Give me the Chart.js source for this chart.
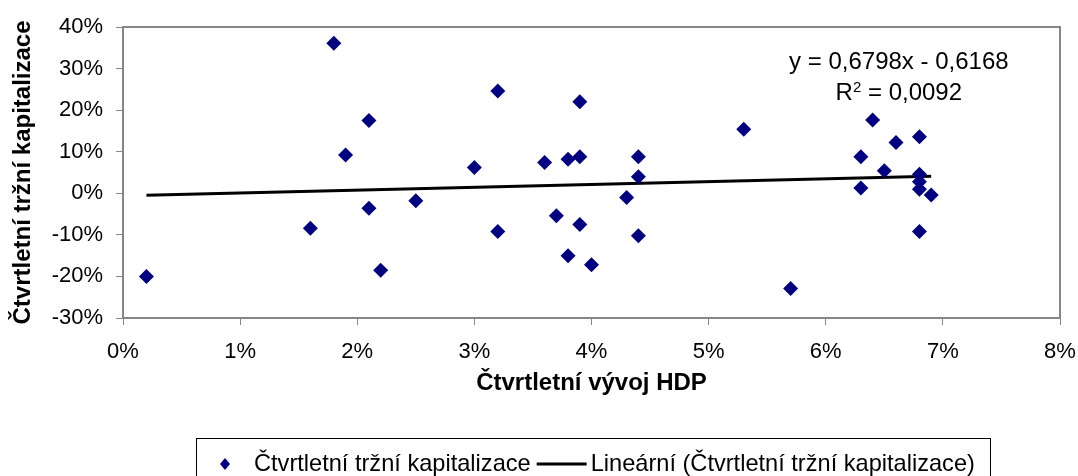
<!DOCTYPE html>
<html>
<head>
<meta charset="utf-8">
<script src="https://cdn.jsdelivr.net/npm/chart.js@4"></script>
<style>
  html, body { margin: 0; padding: 0; background: #fff; }
  #wrap { width: 1078px; height: 476px; }
</style>
</head>
<body>
<div id="wrap"><canvas id="myChart" width="1078" height="476"></canvas></div>
<script>
// quarterly GDP growth (%) vs quarterly market cap change (%)
const gdpGrowth = [0.2, 1.6, 1.8, 1.9, 2.1, 2.1, 2.2, 2.5, 3.0, 3.2, 3.2, 3.6, 3.7, 3.8, 3.8, 3.9, 3.9, 3.9, 4.0, 4.3, 4.4, 4.4, 4.4, 5.3, 5.7, 6.3, 6.3, 6.4, 6.5, 6.6, 6.8, 6.8, 6.8, 6.8, 6.8, 6.9];
const marketCap = [-20.0, -8.4, 36.1, 9.2, 17.5, -3.6, -18.5, -1.8, 6.2, 24.6, -9.2, 7.4, -5.4, 8.2, -15.0, 8.8, 22.0, -7.5, -17.2, -1.0, 8.8, 4.0, -10.2, 15.4, -22.9, 8.8, 1.3, 17.6, 5.4, 12.2, 13.6, 4.6, 2.8, 1.0, -9.2, -0.4];
const trendSlope = 0.6798;
const trendIntercept = -0.6168;
const trendText = 'y = 0,6798x - 0,6168';
const rSquared = '0,0092';
const xTicks = [0, 1, 2, 3, 4, 5, 6, 7, 8];
const yTicks = [-30, -20, -10, 0, 10, 20, 30, 40];

const seriesName = 'Čtvrtletní tržní kapitalizace';
const trendName = 'Lineární (Čtvrtletní tržní kapitalizace)';
const xTitle = 'Čtvrtletní vývoj HDP';
const yTitle = 'Čtvrtletní tržní kapitalizace';

const points = gdpGrowth.map((x, i) => ({ x, y: marketCap[i] }));
const xMin = Math.min(...gdpGrowth), xMax = Math.max(...gdpGrowth);
const trend = [xMin, xMax].map(x => ({ x, y: trendSlope * x + trendIntercept }));

const FONT = "'Liberation Sans', Arial, sans-serif";
const axisGray = '#868686';

// legend font: narrow face if it is there
function legendFont(ctx) {
  ctx.save();
  ctx.font = "28px 'Liberation Sans Narrow'";
  const wn = ctx.measureText(seriesName).width;
  ctx.font = "28px 'Liberation Sans'";
  const wr = ctx.measureText(seriesName).width;
  ctx.restore();
  return wn < wr * 0.92 ? "28px 'Liberation Sans Narrow'" : '23.6px ' + FONT;
}

// plot frame, boxed legend, trendline equation
const extras = {
  id: 'extras',
  afterDraw(chart) {
    const ctx = chart.ctx;
    const a = chart.chartArea;
    const ds = chart.data.datasets;
    ctx.save();
    ctx.strokeStyle = axisGray;
    ctx.lineWidth = 2;
    ctx.strokeRect(a.left, a.top, a.right - a.left, a.bottom - a.top);

    // equation
    ctx.fillStyle = '#000';
    ctx.textBaseline = 'alphabetic';
    ctx.textAlign = 'center';
    ctx.font = '24px ' + FONT;
    const cx = a.left + (a.right - a.left) * 0.828;
    ctx.fillText(trendText, cx, a.top + 42);
    const y2 = a.top + 73;
    const wL = ctx.measureText('R').width;
    const wR = ctx.measureText(' = ' + rSquared).width;
    ctx.font = '15px ' + FONT;
    const wS = ctx.measureText('2').width;
    const start = cx - (wL + wS + wR) / 2;
    ctx.textAlign = 'left';
    ctx.fillText('2', start + wL, y2 - 8);
    ctx.font = '24px ' + FONT;
    ctx.fillText('R', start, y2);
    ctx.fillText(' = ' + rSquared, start + wL + wS, y2);

    // legend
    ctx.strokeStyle = '#000';
    ctx.lineWidth = 1;
    ctx.strokeRect(196.5, 438.5, 794, 50);
    const ly = 464;
    ctx.fillStyle = ds[0].backgroundColor;
    ctx.beginPath();
    ctx.moveTo(225, ly - 6);
    ctx.lineTo(230, ly);
    ctx.lineTo(225, ly + 6);
    ctx.lineTo(220, ly);
    ctx.closePath();
    ctx.fill();
    ctx.font = legendFont(ctx);
    ctx.fillStyle = '#000';
    ctx.textBaseline = 'middle';
    ctx.fillText(ds[0].label, 254, ly);
    const w1 = ctx.measureText(ds[0].label).width;
    const lx = 254 + w1 + 6;
    ctx.strokeStyle = ds[1].borderColor;
    ctx.lineWidth = 3;
    ctx.beginPath();
    ctx.moveTo(lx, ly);
    ctx.lineTo(lx + 50, ly);
    ctx.stroke();
    ctx.fillText(ds[1].label, lx + 54, ly);
    ctx.restore();
  }
};

new Chart(document.getElementById('myChart'), {
  type: 'scatter',
  data: {
    datasets: [
      {
        label: seriesName,
        data: points,
        pointStyle: 'rectRot',
        pointRadius: 7.5,
        pointHoverRadius: 7.5,
        backgroundColor: '#000080',
        borderColor: '#000080',
        borderWidth: 0
      },
      {
        label: trendName,
        type: 'line',
        data: trend,
        showLine: true,
        pointRadius: 0,
        borderColor: '#000',
        backgroundColor: '#000',
        borderWidth: 3,
        fill: false
      }
    ]
  },
  options: {
    responsive: false,
    animation: false,
    layout: { padding: { left: 0, right: 18, top: 27, bottom: 78 } },
    plugins: {
      tooltip: { enabled: false },
      legend: { display: false }
    },
    scales: {
      x: {
        type: 'linear',
        min: 0,
        max: 8,
        afterBuildTicks: s => { s.ticks = xTicks.map(v => ({ value: v })); },
        afterFit: s => { s.height = 80; s.paddingLeft = 0; s.paddingRight = 0; },
        ticks: {
          color: '#000',
          font: { family: FONT, size: 22 },
          padding: 14,
          maxRotation: 0,
          callback: v => v + '%'
        },
        grid: { drawOnChartArea: false, drawTicks: true, tickLength: 7, tickColor: axisGray },
        border: { color: axisGray, width: 2 },
        title: {
          display: true,
          text: xTitle,
          color: '#000',
          font: { family: FONT, size: 24, weight: 'bold' },
          padding: { top: 0, bottom: 0 }
        }
      },
      y: {
        type: 'linear',
        min: -30,
        max: 40,
        afterBuildTicks: s => { s.ticks = yTicks.map(v => ({ value: v })); },
        afterFit: s => { s.width = 123; s.paddingTop = 0; s.paddingBottom = 0; },
        ticks: {
          color: '#000',
          font: { family: FONT, size: 22 },
          padding: 13,
          callback: v => v + '%'
        },
        grid: { drawOnChartArea: false, drawTicks: true, tickLength: 7, tickColor: axisGray },
        border: { color: axisGray, width: 2 },
        title: {
          display: true,
          text: yTitle,
          color: '#000',
          font: { family: FONT, size: 24, weight: 'bold' },
          padding: { top: 9, bottom: 0 }
        }
      }
    }
  },
  plugins: [extras]
});
</script>
</body>
</html>
